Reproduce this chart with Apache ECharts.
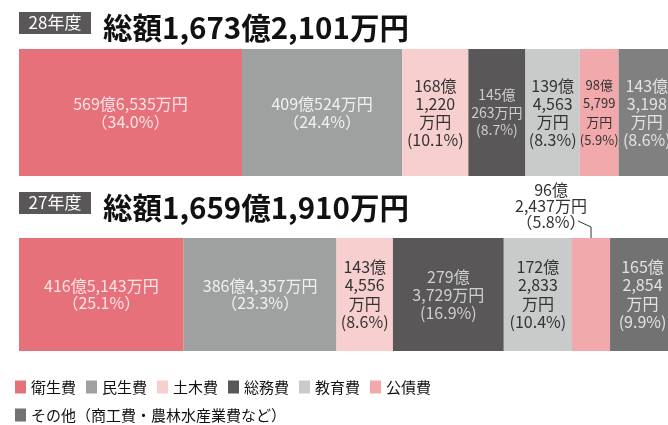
<!DOCTYPE html>
<html>
<head>
<meta charset="utf-8">
<script src="https://cdn.jsdelivr.net/npm/echarts@6/dist/echarts.min.js"></script>
<style>
html, body { margin: 0; padding: 0; background: #fff; }
#chart { width: 668px; height: 425px; }
</style>
</head>
<body>
<div id="chart"></div>
<script>
// 歳出の内訳（金額は万円）
const years = ['28年度', '27年度'];
const totals = [16732101, 16591910];
const categories = ['衛生費', '民生費', '土木費', '総務費', '教育費', '公債費', 'その他（商工費・農林水産業費など）'];
const amounts28 = [5696535, 4090524, 1681220, 1450263, 1394563, 985799, 1433198];
const amounts27 = [4165143, 3864357, 1434556, 2793729, 1722833, 962437, 1652854];
const shares28 = [34.0, 24.4, 10.1, 8.7, 8.3, 5.9, 8.6];
const shares27 = [25.1, 23.3, 8.6, 16.9, 10.4, 5.8, 9.9];

const colors = ['#e6717b', '#9fa0a0', '#f8cfcf', '#595757', '#c9caca', '#f1a9ac', '#727272'];
const labelColors = ['#fde4e6', '#f0f0f0', '#333333', '#cfcfcf', '#333333', '#333333', '#e2e2e2'];

// label line breaking / size per segment
const layout = [
  { top: 49, height: 127, modes: ['wide', 'wide', 'tall', 'mid', 'tall', 'tall', 'tall'],
    sizes: [16, 16, 16, 14, 16, 13, 16], lh: [18, 18, 18, 17.5, 18, 18.5, 18],
    otherColor: '#808080' },
  { top: 238, height: 113, modes: ['wide', 'wide', 'tall', 'mid', 'tall', 'callout', 'tall'],
    sizes: [16, 16, 16, 16, 16, 16, 16], lh: [17, 17, 18.3, 18, 18.3, 16, 18.3],
    otherColor: '#727272' }
];
const font = "'Noto Sans CJK JP', 'Noto Sans', sans-serif";

function comma(n) {
  return String(n).replace(/\B(?=(\d{3})+(?!\d))/g, ',');
}
function yen(v) {
  return [comma(Math.floor(v / 10000)) + '億', comma(v % 10000), '万円'];
}
function labelText(v, p, mode) {
  const [a, b, c] = yen(v);
  const pct = p.toFixed(1) + '%';
  if (mode === 'wide') return a + b + c + '\n（' + pct + '）';
  if (mode === 'mid') return a + '\n' + b + c + '\n(' + pct + ')';
  if (mode === 'callout') return a + '\n' + b + c + '\n（' + pct + '）';
  return a + '\n' + b + '\n' + c + '\n(' + pct + ')';
}

const chart = echarts.init(document.getElementById('chart'));

const sets = [[amounts28, shares28], [amounts27, shares27]];
const series = [];
sets.forEach(([amounts, shares], g) => {
  const lay = layout[g];
  categories.forEach((name, i) => {
    const label = {
      show: true,
      formatter: labelText(amounts[i], shares[i], lay.modes[i]),
      color: labelColors[i],
      fontSize: lay.sizes[i],
      lineHeight: lay.lh[i],
      fontWeight: 'normal',
      fontFamily: font,
      position: 'inside'
    };
    if (lay.modes[i] === 'callout') {
      label.position = [-21, -8];
      label.align = 'center';
      label.verticalAlign = 'bottom';
      label.color = '#333';
    }
    const item = { value: shares[i] };
    if (i === categories.length - 1) item.itemStyle = { color: lay.otherColor };
    series.push({
      name: name,
      type: 'bar',
      stack: 'y' + g,
      xAxisIndex: g,
      yAxisIndex: g,
      barWidth: '100%',
      itemStyle: { color: colors[i] },
      label: label,
      emphasis: { disabled: true },
      data: [item]
    });
  });
});

const option = {
  animation: false,
  textStyle: { fontFamily: font },
  title: years.map((y, k) => ({
    left: 19,
    top: [12, 192][k],
    padding: 0,
    text: '{b|' + y + '}{t|総額' + yen(totals[k]).join('') + '}',
    textStyle: {
      rich: {
        b: { backgroundColor: '#595757', color: '#fff', fontSize: 17, fontWeight: 'normal',
             width: 72, height: 22, lineHeight: 22, align: 'center', verticalAlign: 'top',
             fontFamily: font },
        t: { fontSize: 29.5, fontWeight: 'bold', color: '#111', lineHeight: 32,
             padding: [0, 0, 0, 12], fontFamily: font }
      }
    }
  })),
  legend: {
    data: categories,
    left: 15,
    top: 378,
    width: 450,
    padding: 0,
    itemWidth: 11,
    itemHeight: 13,
    itemGap: 10,
    icon: 'rect',
    selectedMode: false,
    textStyle: { fontSize: 15, lineHeight: 18, color: '#111', fontFamily: font }
  },
  grid: layout.map(l => ({ left: 19, width: 656, top: l.top, height: l.height, outerBoundsMode: 'none' })),
  xAxis: layout.map((l, k) => ({ type: 'value', gridIndex: k, min: 0, max: 100, show: false })),
  yAxis: layout.map((l, k) => ({ type: 'category', gridIndex: k, data: [years[k]], show: false })),
  series: series
};
chart.setOption(option);

// leader line for the 27年度 公債費 callout
const cum = shares27.slice(0, 5).reduce((a, b) => a + b, 0) + shares27[5] / 2;
const px = chart.convertToPixel({ gridIndex: 1 }, [cum, years[1]])[0];
const top2 = layout[1].top;
chart.setOption({
  graphic: [{
    type: 'polyline',
    shape: { points: [[px - 13, top2 - 17], [px, top2 - 11], [px, top2 + 5]] },
    style: { stroke: '#333', lineWidth: 1, fill: null }
  }]
});
</script>
</body>
</html>
